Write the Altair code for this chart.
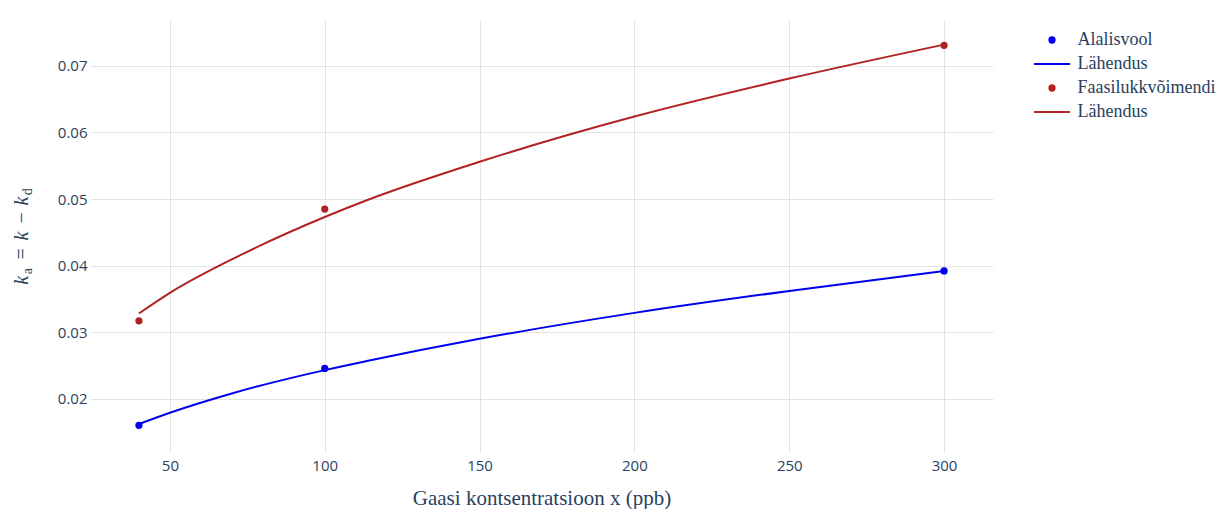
import altair as alt
import pandas as pd

# ---------------- data ----------------
series_names = ["Alalisvool", "Lähendus", "Faasilukkvõimendi", "Lähendus "]
series_colors = ["#0000ee", "#0000ee", "#b22222", "#b22222"]

dc_x = [40, 100, 300]
dc_y = [0.0160, 0.02455, 0.0392]
pl_x = [40, 100, 300]
pl_y = [0.0317, 0.0485, 0.0731]

dc_fit_x = [40, 50, 70, 100, 114, 150, 200, 250, 300]
dc_fit_y = [0.0162, 0.0179, 0.0208, 0.0243, 0.0257, 0.0290, 0.0329, 0.0362, 0.0392]
pl_fit_x = [40, 50, 72, 100, 114, 150, 200, 250, 300]
pl_fit_y = [0.0328, 0.0359, 0.0414, 0.0473, 0.0499, 0.0556, 0.0624, 0.0681, 0.0732]

x_ticks = [50, 100, 150, 200, 250, 300]
y_ticks = [0.02, 0.03, 0.04, 0.05, 0.06, 0.07]
x_title = "Gaasi kontsentratsioon x (ppb)"

# y title pieces: text, italic?, font size, offset (em), subscript?
y_title_pieces = [("k", True, 20, 0.0, False), ("a", False, 14, 0.521, True),
                  ("=", False, 20, 1.26, False), ("k", True, 20, 2.209, False),
                  ("−", False, 20, 3.059, False), ("k", True, 20, 3.952, False),
                  ("d", False, 14, 4.473, True)]

# ---------------- tables ----------------
pts = pd.DataFrame({
    "x": dc_x + pl_x,
    "y": dc_y + pl_y,
    "series": [series_names[0]] * len(dc_x) + [series_names[2]] * len(pl_x),
})
fits = pd.DataFrame({
    "x": dc_fit_x + pl_fit_x,
    "y": dc_fit_y + pl_fit_y,
    "series": [series_names[1]] * len(dc_fit_x) + [series_names[3]] * len(pl_fit_x),
})

W, H = 903, 432
PAD_L, PAD_T = 90, 20
TXT = "#2a3f5f"
GRID = "#e3e3e3"

xs = alt.Scale(domain=[24.2, 315.8], nice=False, zero=False)
ys = alt.Scale(domain=[0.0120, 0.0769], nice=False, zero=False)

x_axis = alt.Axis(values=x_ticks, grid=True, gridColor=GRID, gridWidth=1, domain=False,
                  ticks=False, tickSize=0, labelFont="Open Sans", labelFontSize=15,
                  labelColor=TXT, labelPadding=6, title=x_title,
                  titleFont="Liberation Serif", titleFontSize=21, titleFontWeight="normal",
                  titleColor=TXT, titleX=W / 2, titleY=52, titleAlign="center",
                  titleBaseline="alphabetic")
y_axis = alt.Axis(values=y_ticks, format=".2f", grid=True, gridColor=GRID, gridWidth=1,
                  domain=False, ticks=False, tickSize=0, labelFont="Open Sans",
                  labelFontSize=15, labelColor=TXT, labelPadding=3, title=None)

circle_path = "M-0.44,0A0.44,0.44,0,1,1,0.44,0A0.44,0.44,0,1,1,-0.44,0Z"
line_path = "M-3,0H3"
shape_range = [circle_path, line_path, circle_path, line_path]

LEG_PAD = 11
legend = alt.Legend(title=None, orient="right", offset=952.5 - W - LEG_PAD,
                    labelFont="Liberation Serif", labelFontSize=18, labelColor=TXT,
                    labelOffset=16.5, rowPadding=6, padding=LEG_PAD, symbolOffset=0,
                    labelLimit=400, symbolStrokeWidth=2, symbolSize=144)

col_scale = alt.Scale(domain=series_names, range=series_colors)

points = alt.Chart(pts).mark_point(filled=True, opacity=1, size=144, strokeWidth=2).encode(
    x=alt.X("x:Q", scale=xs, axis=x_axis),
    y=alt.Y("y:Q", scale=ys, axis=y_axis),
    fill=alt.Fill("series:N", scale=col_scale, legend=legend),
    stroke=alt.Stroke("series:N", scale=col_scale, legend=legend),
    shape=alt.Shape("series:N", scale=alt.Scale(domain=series_names, range=shape_range),
                    legend=legend),
)

lines = alt.Chart(fits).mark_line(strokeWidth=2, interpolate="monotone").encode(
    x=alt.X("x:Q", scale=xs),
    y=alt.Y("y:Q", scale=ys),
    stroke=alt.condition(alt.datum.series == series_names[1],
                         alt.value(series_colors[1]), alt.value(series_colors[3])),
    detail="series:N",
)

# composed y-axis title (k_a = k − k_d), rotated
em = 20
total = 4.866 * em
start_y = (PAD_T + H / 2) + total / 2
base_x = 28
title_layers = []
for txt, ital, fs, off, sub in y_title_pieces:
    ys_px = start_y - off * em
    xs_px = base_x + (3.5 if sub else 0)
    title_layers.append(
        alt.Chart(pd.DataFrame({"t": [txt]})).mark_text(
            angle=270, align="left", baseline="alphabetic", font="Liberation Serif",
            fontSize=fs, fontStyle="italic" if ital else "normal", color=TXT,
        ).encode(text="t:N", x=alt.value(xs_px - PAD_L), y=alt.value(ys_px - PAD_T))
    )

chart = alt.layer(lines, points, *title_layers).properties(
    width=W, height=H,
    padding={"left": PAD_L, "top": PAD_T, "right": 1218 - PAD_L - W, "bottom": 509 - PAD_T - H},
    autosize=alt.AutoSizeParams(type="none"),
    background="white",
).configure_view(stroke=None)

chart.save("out.html", embed_options={"renderer": "svg", "actions": False})
